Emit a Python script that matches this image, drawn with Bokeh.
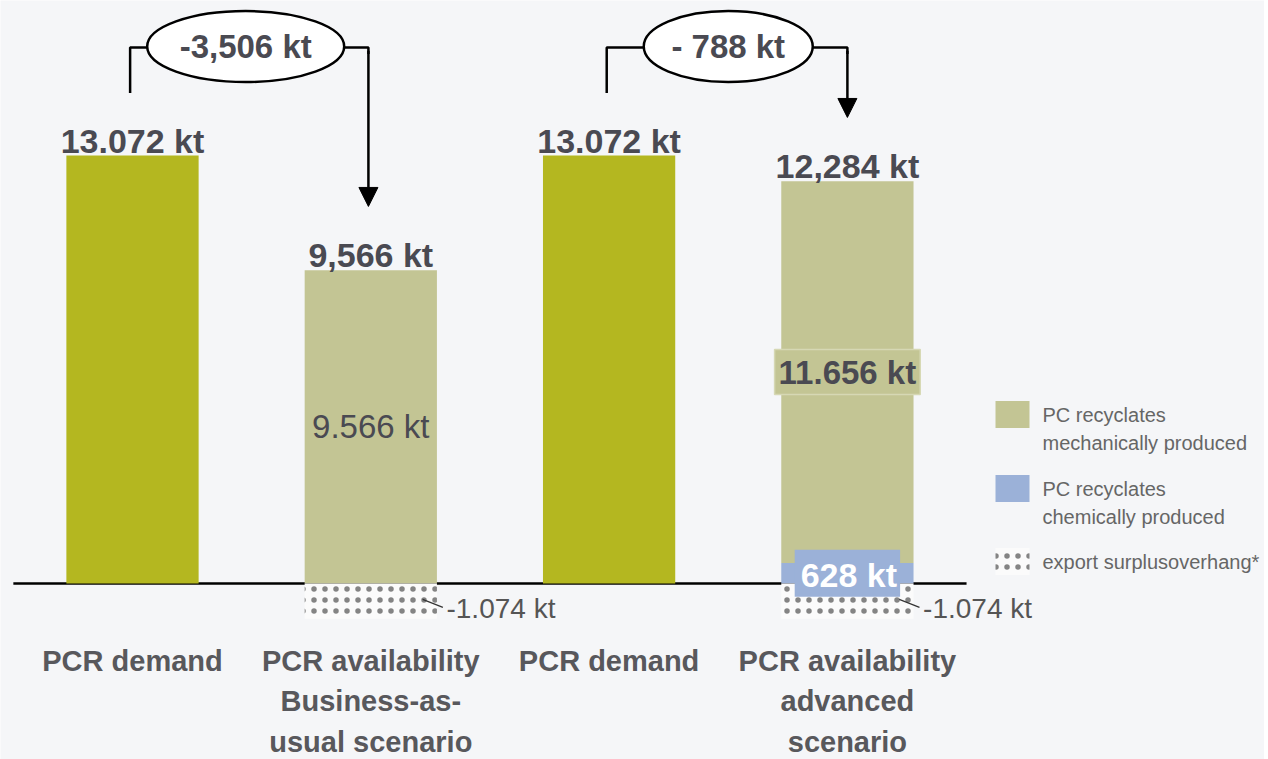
from bokeh.plotting import figure
from bokeh.models import Range1d, Arrow, NormalHead
from bokeh.embed import file_html
from bokeh.resources import INLINE
from bokeh.core.properties import value

# ---------------- data ----------------
categories = ["PCR demand",
              "PCR availability\nBusiness-as-\nusual scenario",
              "PCR demand",
              "PCR availability\nadvanced\nscenario"]
demand_idx = [0, 2]
demand_vals = [13072, 13072]
avail_idx = [1, 3]
chem_vals = [0, 628]
mech_vals = [9566, 11656]
export_vals = [-1074, -1074]
total_labels = ["13.072 kt", "9,566 kt", "13.072 kt", "12,284 kt"]
mech_labels = ["9.566 kt", "11.656 kt"]
chem_label = "628 kt"
export_labels = ["-1.074 kt", "-1.074 kt"]
delta_labels = ["-3,506 kt", "- 788 kt"]
legend_line1 = ["PC recyclates", "PC recyclates", "export surplusoverhang*"]
legend_line2 = ["mechanically produced", "chemically produced", ""]

# ---------------- styling ----------------
C_DEMAND = "#b4b720"
C_MECH = "#c3c594"
C_CHEM = "#9bb1d8"
C_TEXT = "#4a4a52"
FONT = value("Liberation Sans")
BW = 0.555

W, H = 1264, 759
PX_X = 238.3            # screen px per category slot
KT_PX = 13072 / 428.0   # kt per screen px
X0 = -132 / PX_X
Y1 = 583 * KT_PX
p = figure(width=W, height=H, output_backend="svg", toolbar_location=None,
           x_range=Range1d(X0, X0 + W / PX_X),
           y_range=Range1d(Y1 - H * KT_PX, Y1),
           x_axis_type=None, y_axis_type=None, min_border=0,
           background_fill_color="#f5f6f8", border_fill_color="#f5f6f8")
p.outline_line_color = None
p.grid.visible = False

totals = []
for i in range(4):
    if i in demand_idx:
        totals.append(demand_vals[demand_idx.index(i)])
    else:
        k = avail_idx.index(i)
        totals.append(chem_vals[k] + mech_vals[k])

# baseline
p.line(x=[-0.5, 3.5], y=[0, 0], line_color="black", line_width=2.5)

# bars
r_dem = p.vbar(x=demand_idx, top=demand_vals, bottom=0, width=BW,
               fill_color=C_DEMAND, line_color=None)
r_mech = p.vbar(x=avail_idx, top=[c + m for c, m in zip(chem_vals, mech_vals)],
                bottom=chem_vals, width=BW, fill_color=C_MECH, line_color=None)
r_chem = p.vbar(x=avail_idx, top=chem_vals, bottom=0, width=BW,
                fill_color=C_CHEM, line_color=None)
HATCH = dict(hatch_pattern="dot", hatch_color="#222222", hatch_scale=11,
             hatch_weight=0.5, hatch_alpha=0.55)
r_exp = p.vbar(x=avail_idx, top=0, bottom=export_vals, width=BW,
               fill_color="#fbfbfb", line_color=None, **HATCH)

# total labels above bars
p.text(x=list(range(4)), y=totals, text=total_labels, text_align="center",
       text_baseline="alphabetic", y_offset=-15, text_font=FONT,
       text_font_style="bold", text_font_size="34px", text_color=C_TEXT)

# inside labels
mids = [c + m / 2 for c, m in zip(chem_vals, mech_vals)]
p.text(x=[avail_idx[0]], y=[mids[0]], text=[mech_labels[0]], text_align="center",
       text_baseline="middle", text_font=FONT, text_font_size="33px",
       text_color=C_TEXT)
p.text(x=[avail_idx[1]], y=[mids[1]], text=[mech_labels[1]], text_align="center",
       text_baseline="middle", text_font=FONT, text_font_style="bold",
       text_font_size="33px", text_color=C_TEXT,
       background_fill_color=C_MECH, border_line_color="#d6d8b4",
       border_line_width=1.5, padding=4)
p.text(x=[avail_idx[1]], y=[chem_vals[1] / 2], text=[chem_label], text_align="center",
       text_baseline="middle", text_font=FONT, text_font_style="bold",
       text_font_size="34px", text_color="white",
       background_fill_color=C_CHEM, padding=[6, 3, 6, 3])

# export labels + leader lines
p.segment(x0=[i + BW / 2 - 0.06 for i in avail_idx], y0=[e * 0.45 for e in export_vals],
          x1=[i + BW / 2 + 0.025 for i in avail_idx], y1=[e * 0.68 for e in export_vals],
          line_color="#333333", line_width=1.2)
p.text(x=[i + BW / 2 + 0.04 for i in avail_idx], y=[e / 2 for e in export_vals],
       text=export_labels, text_align="left", text_baseline="middle", y_offset=7,
       text_font=FONT, text_font_size="28px", text_color="#555555")

# category labels
p.text(x=list(range(4)), y=[0] * 4, text=categories, text_align="center",
       text_baseline="top", y_offset=61, text_font=FONT, text_font_style="bold",
       text_font_size="29px", text_color="#58585c", text_line_height=1.27)

# delta brackets
BR_Y = 16370
OFF = 1950
pairs = [(0, 1, 0.475, 197, -0.01), (2, 3, 2.5, 169, 0.0)]
for (a, b, cx, ew, dx), lab in zip(pairs, delta_labels):
    half = ew / 2 / PX_X
    p.line(x=[a - 0.01, a - 0.01, cx - half], y=[totals[a] + OFF - 40, BR_Y, BR_Y],
           line_color="black", line_width=2.5)
    p.line(x=[cx + half, b + dx, b + dx], y=[BR_Y, BR_Y, BR_Y - 200],
           line_color="black", line_width=2.5)
    p.add_layout(Arrow(end=NormalHead(size=19, fill_color="black", line_color="black"),
                       x_start=b + dx, y_start=BR_Y - 100, x_end=b + dx,
                       y_end=totals[b] + OFF, line_color="black", line_width=2.5))
    p.ellipse(x=[cx], y=[BR_Y + 30], width=ew, height=71, width_units="screen",
              height_units="screen", fill_color="white", line_color="black",
              line_width=2.5)
    p.text(x=[cx], y=[BR_Y + 30], text=[lab], text_align="center",
           text_baseline="middle", text_font=FONT, text_font_style="bold",
           text_font_size="33px", text_color=C_TEXT)

# legend (drawn manually so swatches align with the first label line)
def sx(px):
    return (px - 132) / PX_X

def sy(py):
    return (583 - py) * KT_PX

leg_y = [414, 488, 561]
sw_x = sx(1012)
p.rect(x=[sw_x], y=[sy(leg_y[0])], width=34, height=27, width_units="screen",
       height_units="screen", fill_color=C_MECH, line_color=None)
p.rect(x=[sw_x], y=[sy(leg_y[1])], width=34, height=27, width_units="screen",
       height_units="screen", fill_color=C_CHEM, line_color=None)
p.rect(x=[sw_x], y=[sy(leg_y[2])], width=34, height=27, width_units="screen",
       height_units="screen", fill_color="#fbfbfb", line_color=None, **HATCH)
p.text(x=[sx(1042)] * 3, y=[sy(v) for v in leg_y], text=legend_line1,
       text_align="left", text_baseline="middle", text_font=FONT,
       text_font_size="20px", text_color="#666666")
p.text(x=[sx(1042)] * 3, y=[sy(v + 28) for v in leg_y], text=legend_line2,
       text_align="left", text_baseline="middle", text_font=FONT,
       text_font_size="20px", text_color="#666666")

open("out.html", "w").write(file_html(p, INLINE))
